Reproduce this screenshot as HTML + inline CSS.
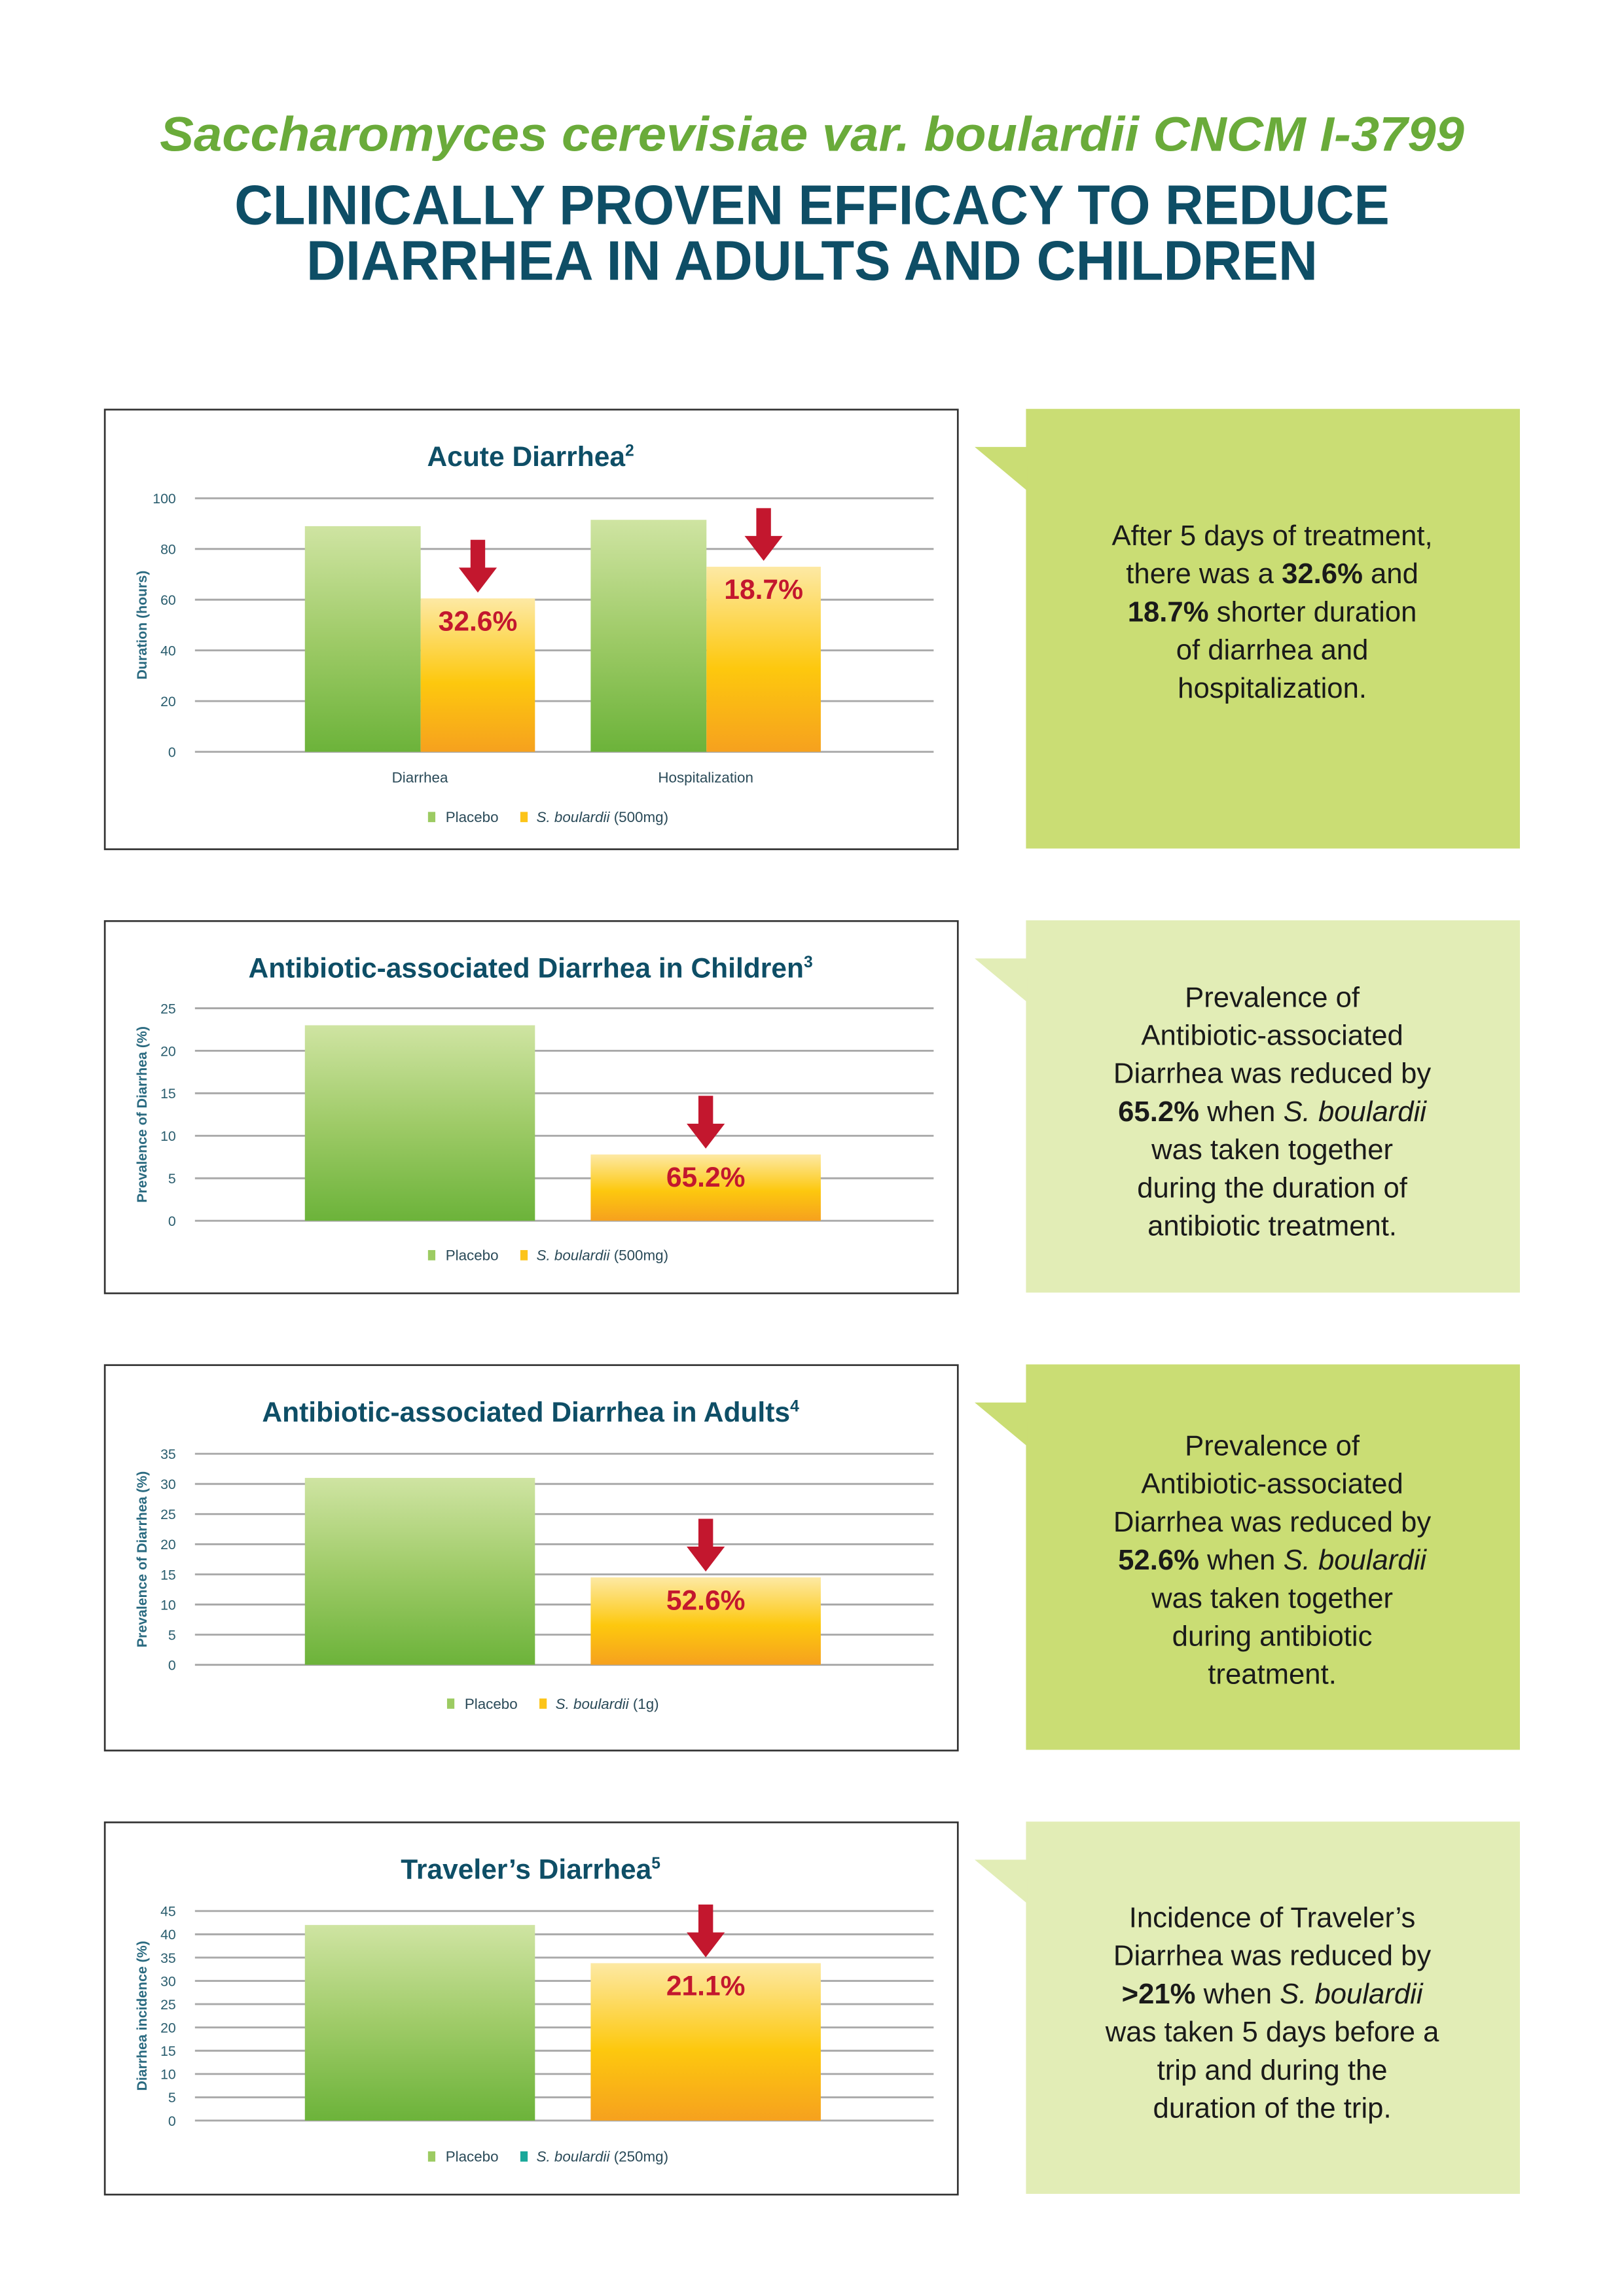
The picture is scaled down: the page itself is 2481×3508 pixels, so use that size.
<!DOCTYPE html>
<html><head><meta charset="utf-8"><style>
html,body{margin:0;padding:0;background:#fff;}
svg{display:block;}
text{font-family:"Liberation Sans",sans-serif;}
</style></head><body>
<svg id="page" width="2481" height="3508" viewBox="0 0 1108 1566.7" xmlns="http://www.w3.org/2000/svg">
<defs>
<linearGradient id="gGreen" x1="0" y1="0" x2="0" y2="1"><stop offset="0" stop-color="#cfe4a2"/><stop offset="0.5" stop-color="#9fcb68"/><stop offset="1" stop-color="#6cb33a"/></linearGradient>
<linearGradient id="gOrange" x1="0" y1="0" x2="0" y2="1"><stop offset="0" stop-color="#fde9a4"/><stop offset="0.55" stop-color="#fdc80e"/><stop offset="1" stop-color="#f6a11e"/></linearGradient>
</defs>
<text x="554" y="103" text-anchor="middle" font-size="33" font-weight="bold" font-style="italic" fill="#6aab3a" textLength="890" lengthAdjust="spacingAndGlyphs">Saccharomyces cerevisiae var. boulardii CNCM I-3799</text>
<text x="554" y="153" text-anchor="middle" font-size="38" font-weight="bold" fill="#0e4e66" textLength="788" lengthAdjust="spacingAndGlyphs">CLINICALLY PROVEN EFFICACY TO REDUCE</text>
<text x="554" y="191" text-anchor="middle" font-size="38" font-weight="bold" fill="#0e4e66" textLength="690" lengthAdjust="spacingAndGlyphs">DIARRHEA IN ADULTS AND CHILDREN</text>
<g id="charts"></g>
</svg>
<script>
// Chart 1: Acute Diarrhea
const c1Categories = ["Diarrhea", "Hospitalization"];
const c1Placebo = [89, 91.5];
const c1Boulardii = [60.5, 73];
const c1Labels = ["32.6%", "18.7%"];
const c1Ticks = [0, 20, 40, 60, 80, 100];
// Chart 2: AAD children
const c2Placebo = [23];
const c2Boulardii = [7.8];
const c2Labels = ["65.2%"];
const c2Ticks = [0, 5, 10, 15, 20, 25];
// Chart 3: AAD adults
const c3Placebo = [31];
const c3Boulardii = [14.5];
const c3Labels = ["52.6%"];
const c3Ticks = [0, 5, 10, 15, 20, 25, 30, 35];
// Chart 4: Traveler's
const c4Placebo = [42];
const c4Boulardii = [33.8];
const c4Labels = ["21.1%"];
const c4Ticks = [0, 5, 10, 15, 20, 25, 30, 35, 40, 45];

const NS = "http://www.w3.org/2000/svg";
const root = document.getElementById('charts');
function mk(tag, attrs, parent, txt) {
  const e = document.createElementNS(NS, tag);
  for (const k in attrs) e.setAttribute(k, attrs[k]);
  if (txt !== undefined) e.textContent = txt;
  (parent || root).appendChild(e);
  return e;
}

const cfgs = [
  {top:279,bot:579,dark:true,title:"Acute Diarrhea",sup:"2",titleY:318,gTop:340,gBot:513,yTitle:"Duration (hours)",ticks:c1Ticks,pl:c1Placebo,sb:c1Boulardii,lab:c1Labels,cats:c1Categories,
   groups:[[208,287,365],[403,482,560]],legY:561,legX:292,dose:"(500mg)",sw2:"#fcc419",
   text:[["After 5 days of treatment,"],["there was a ",["32.6%"]," and"],[["18.7%"]," shorter duration"],["of diarrhea and"],["hospitalization."]],textY:372},
  {top:628,bot:882,dark:false,title:"Antibiotic-associated Diarrhea in Children",sup:"3",titleY:667,gTop:688,gBot:833,yTitle:"Prevalence of Diarrhea (%)",ticks:c2Ticks,pl:c2Placebo,sb:c2Boulardii,lab:c2Labels,
   groups:[[208,365,403,560]],legY:860,legX:292,dose:"(500mg)",sw2:"#fcc419",
   text:[["Prevalence of"],["Antibiotic-associated"],["Diarrhea was reduced by"],[["65.2%"]," when ",{i:"S. boulardii"}],["was taken together"],["during the duration of"],["antibiotic treatment."]],textY:687},
  {top:931,bot:1194,dark:true,title:"Antibiotic-associated Diarrhea in Adults",sup:"4",titleY:970,gTop:992,gBot:1136,yTitle:"Prevalence of Diarrhea (%)",ticks:c3Ticks,pl:c3Placebo,sb:c3Labels?c3Boulardii:[],lab:c3Labels,
   groups:[[208,365,403,560]],legY:1166,legX:305,dose:"(1g)",sw2:"#fcc419",
   text:[["Prevalence of"],["Antibiotic-associated"],["Diarrhea was reduced by"],[["52.6%"]," when ",{i:"S. boulardii"}],["was taken together"],["during antibiotic"],["treatment."]],textY:993},
  {top:1243,bot:1497,dark:false,title:"Traveler\u2019s Diarrhea",sup:"5",titleY:1282,gTop:1304,gBot:1447,yTitle:"Diarrhea incidence (%)",ticks:c4Ticks,pl:c4Placebo,sb:c4Boulardii,lab:c4Labels,
   groups:[[208,365,403,560]],legY:1475,legX:292,dose:"(250mg)",sw2:"#1aa89a",
   text:[["Incidence of Traveler\u2019s"],["Diarrhea was reduced by"],[[">21%"]," when ",{i:"S. boulardii"}],["was taken 5 days before a"],["trip and during the"],["duration of the trip."]],textY:1315}
];

cfgs.forEach((c, ci) => {
  const g = mk('g', {});
  
  
  const box = mk('rect', {x:71.5,y:c.top+0.5,width:582,height:c.bot-c.top,fill:'#fff',stroke:'#333','stroke-width':1.2}, g);
  
  
  const t = mk('text', {x:362,y:c.titleY,'text-anchor':'middle','font-size':19,'font-weight':'bold',fill:'#0e4e66'}, g, c.title);
  
  
  mk('tspan', {'font-size':11,dy:-7}, t, c.sup);
  const maxV = c.ticks[c.ticks.length - 1];
  const y = v => c.gBot - (v / maxV) * (c.gBot - c.gTop);
  c.ticks.forEach(v => {
    const l = mk('line', {x1:133,x2:637,y1:y(v),y2:y(v),stroke:'#a9a9a9','stroke-width':1.3}, g);
    
    
    const tl = mk('text', {x:120,y:y(v)+3.5,'text-anchor':'end','font-size':9.5,fill:'#2a5d6e'}, g, String(v));
    
    
  });
  const ym = (c.gTop + c.gBot) / 2;
  const yt = mk('text', {x:0,y:0,transform:`translate(100 ${ym}) rotate(-90)`,'text-anchor':'middle','font-size':9.5,'font-weight':'bold',fill:'#2a6a80'}, g, c.yTitle);
  
  
  c.groups.forEach((gr, i) => {
    let px0, px1, sx0, sx1;
    if (gr.length === 3) { px0 = gr[0]; px1 = gr[1]; sx0 = gr[1]; sx1 = gr[2]; }
    else { px0 = gr[0]; px1 = gr[1]; sx0 = gr[2]; sx1 = gr[3]; }
    const b1 = mk('rect', {x:px0,y:y(c.pl[i]),width:px1-px0,height:y(0)-y(c.pl[i]),fill:'url(#gGreen)'}, g);
    
    
    const b2 = mk('rect', {x:sx0,y:y(c.sb[i]),width:sx1-sx0,height:y(0)-y(c.sb[i]),fill:'url(#gOrange)'}, g);
    
    
    const cx = (sx0 + sx1) / 2, tip = y(c.sb[i]) - 4;
    const ar = mk('polygon', {points:`${cx-5},${tip-36} ${cx+5},${tip-36} ${cx+5},${tip-17} ${cx+13},${tip-17} ${cx},${tip} ${cx-13},${tip-17} ${cx-5},${tip-17}`,fill:'#c3172e'}, g);
    
    
    const pl = mk('text', {x:cx,y:y(c.sb[i])+22,'text-anchor':'middle','font-size':19,'font-weight':'bold',fill:'#c3172e'}, g, c.lab[i]);
    
    
    if (c.cats) {
      const cl = mk('text', {x:(px0+sx1)/2,y:c.gBot+21,'text-anchor':'middle','font-size':10,fill:'#2a4a58'}, g, c.cats[i]);
      
      
    }
  });
  // legend
  const lg = mk('g', {}, g);
  
  
  mk('rect', {x:c.legX,y:c.legY-7,width:5,height:7,fill:'#9ccb62'}, lg);
  mk('text', {x:c.legX+12,y:c.legY,'font-size':10,fill:'#2a4a58'}, lg, 'Placebo');
  const l2 = c.legX + 63;
  mk('rect', {x:l2,y:c.legY-7,width:5,height:7,fill:c.sw2}, lg);
  const lt = mk('text', {x:l2+11,y:c.legY,'font-size':10,fill:'#2a4a58'}, lg);
  mk('tspan', {'font-style':'italic'}, lt, 'S. boulardii ');
  mk('tspan', {}, lt, c.dose);
  // callout
  const col = c.dark ? '#cadd74' : '#e2edb6';
  const cb = mk('g', {}, g);
  
  
  mk('rect', {x:700,y:c.top,width:337,height:c.bot-c.top,fill:col}, cb);
  mk('polygon', {points:`665,${c.top+26} 701,${c.top+26} 701,${c.top+56}`,fill:col}, cb);
  c.text.forEach((line, li) => {
    const tx = mk('text', {x:868,y:c.textY+li*26,'text-anchor':'middle','font-size':19.5,fill:'#1a1a1a'}, cb);
    
    
    line.forEach(p => {
      if (typeof p === 'string') mk('tspan', {}, tx, p);
      else if (Array.isArray(p)) mk('tspan', {'font-weight':'bold'}, tx, p[0]);
      else mk('tspan', {'font-style':'italic'}, tx, p.i);
    });
  });
});
</script>
</body></html>
